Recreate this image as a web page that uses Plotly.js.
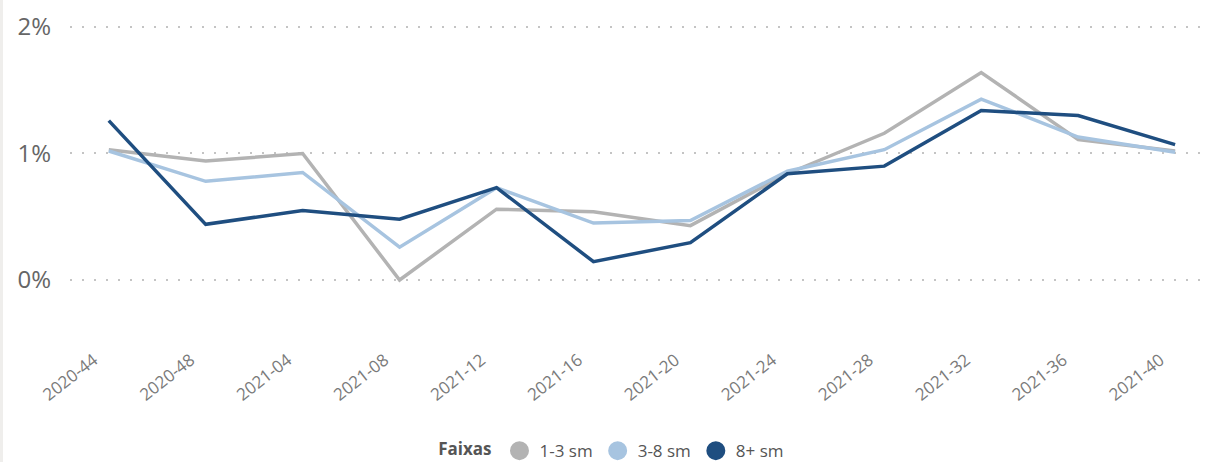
<!DOCTYPE html>
<html>
<head>
<meta charset="utf-8">
<script src="https://cdn.plot.ly/plotly-3.0.1.min.js"></script>
<style>html,body{margin:0;padding:0;background:#fff;}#chart{width:1224px;height:462px;}</style>
</head>
<body>
<div id="chart"></div>
<script>
const weeks = ["2020-44","2020-48","2021-04","2021-08","2021-12","2021-16","2021-20","2021-24","2021-28","2021-32","2021-36","2021-40"];
const faixa13 = [1.03, 0.94, 1.00, 0.00, 0.56, 0.54, 0.43, 0.84, 1.16, 1.64, 1.11, 1.02];
const faixa38 = [1.02, 0.78, 0.85, 0.26, 0.73, 0.45, 0.47, 0.86, 1.03, 1.43, 1.13, 1.01];
const faixa8p = [1.26, 0.44, 0.55, 0.48, 0.73, 0.145, 0.295, 0.84, 0.90, 1.34, 1.30, 1.07];
const seriesNames = ["1-3 sm", "3-8 sm", "8+ sm"];
const colors = ["#B3B3B3", "#A7C4E0", "#1F4E80"];
const yTickVals = [0, 1, 2];
const yTickText = ["0%", "1%", "2%"];

const data = [faixa13, faixa38, faixa8p];
const traces = [];
data.forEach((vals, i) => {
  traces.push({
    x: weeks, y: vals, type: "scatter", mode: "lines",
    line: {color: colors[i], width: 3.5}, showlegend: false, hoverinfo: "x+y"
  });
});
data.forEach((vals, i) => {
  traces.push({
    x: [null], y: [null], type: "scatter", mode: "markers", name: seriesNames[i],
    marker: {color: colors[i], size: 16, symbol: "circle", line: {color: colors[i], width: 3}}, showlegend: true
  });
});

const layout = {
  width: 1224, height: 462,
  margin: {l: 70, r: 14, t: 20, b: 142, autoexpand: false},
  paper_bgcolor: "#fff", plot_bgcolor: "#fff",
  font: {family: "Open Sans, sans-serif", color: "#666"},
  xaxis: {
    type: "category", range: [-0.4, 11.36], automargin: false,
    showgrid: false, zeroline: false, showline: false, ticks: "",
    tickangle: -38, tickfont: {size: 17, color: "#7a7a7a", family: "Open Sans, sans-serif"},
    ticklabelstandoff: 26, ticklabelshift: -15
  },
  yaxis: {
    range: [-0.316, 2.055], automargin: false,
    tickvals: yTickVals, ticktext: yTickText,
    showgrid: true, gridcolor: "#C4C4C4", griddash: "2px,10px", gridwidth: 2,
    zeroline: false, showline: false, ticks: "",
    tickfont: {size: 24, color: "#666"}, ticklabelstandoff: 18
  },
  legend: {
    orientation: "h", x: 0.476, xanchor: "center", y: -0.437, yanchor: "middle",
    title: {text: "<b>Faixas</b>", font: {size: 17, color: "#555"}},
    font: {size: 17, color: "#555"}, itemwidth: 20, tracegroupgap: 0
  },
  shapes: [{type: "rect", xref: "paper", yref: "paper", x0: -0.0614, x1: -0.0588, y0: -0.48, y1: 1.07,
    fillcolor: "#EFEEEC", line: {width: 0}}]
};
Plotly.newPlot("chart", traces, layout, {displayModeBar: false, staticPlot: true});
</script>
</body>
</html>
